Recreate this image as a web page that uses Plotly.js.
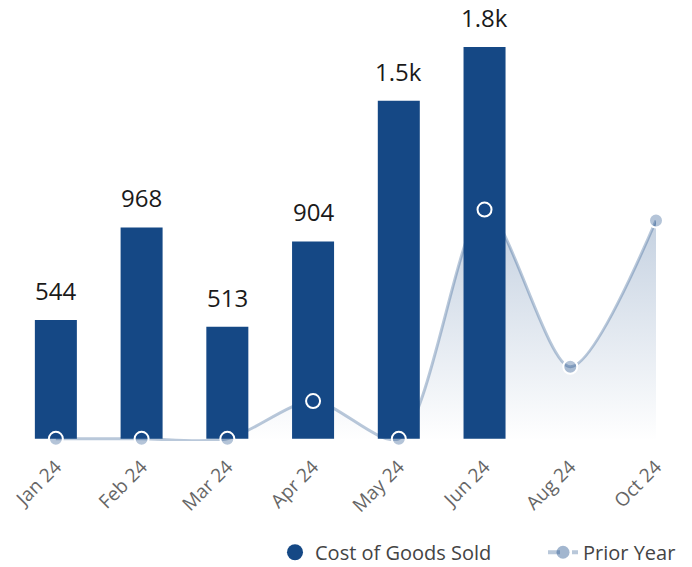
<!DOCTYPE html>
<html>
<head>
<meta charset="utf-8">
<script src="https://cdn.plot.ly/plotly-3.0.1.min.js"></script>
<style>html,body{margin:0;padding:0;background:#fff;}#chart{width:692px;height:567px;}</style>
</head>
<body>
<div id="chart"></div>
<script>
const categories = ['Jan 24','Feb 24','Mar 24','Apr 24','May 24','Jun 24','Aug 24','Oct 24'];
const barCategories = ['Jan 24','Feb 24','Mar 24','Apr 24','May 24','Jun 24'];
const costOfGoodsSold = [544, 968, 513, 904, 1549, 1795];
const barLabels = ['544','968','513','904','1.5k','1.8k'];
const priorYear = [0, 0, 0, 173, 0, 1050, 330, 1000];

const barColor = '#154885';
const lineColor = 'rgba(22,72,134,0.3)';
const markerFill = 'rgba(22,72,134,0.32)';
const font = '"Open Sans", "Noto Sans", sans-serif';

const traces = [
  {
    type: 'scatter', mode: 'lines', x: categories, y: priorYear,
    xaxis: 'x', yaxis: 'y',
    line: {shape: 'spline', smoothing: 0.8, color: lineColor, width: 3},
    fill: 'tozeroy',
    fillgradient: {type: 'vertical', colorscale: [[0, 'rgba(22,72,134,0.0)'], [1, 'rgba(22,72,134,0.26)']]},
    showlegend: false, hoverinfo: 'skip'
  },
  {
    type: 'bar', x: barCategories, y: costOfGoodsSold,
    xaxis: 'x2', yaxis: 'y2',
    marker: {color: barColor}, width: 0.49,
    showlegend: false
  },
  {
    type: 'scatter', mode: 'markers', x: categories, y: priorYear,
    xaxis: 'x2', yaxis: 'y2', cliponaxis: false,
    marker: {size: 14, color: markerFill, line: {color: '#ffffff', width: 2}},
    showlegend: false
  },
  {
    type: 'scatter', mode: 'markers', x: [null], y: [null],
    name: 'Cost of Goods Sold', xaxis: 'x2', yaxis: 'y2', legend: 'legend',
    marker: {size: 19, color: barColor, symbol: 'circle'}
  },
  {
    type: 'scatter', mode: 'lines+markers', x: [null], y: [null],
    name: 'Prior Year', xaxis: 'x2', yaxis: 'y2', legend: 'legend2',
    line: {color: 'rgba(22,72,134,0.3)', width: 4, dash: 'dash'},
    marker: {size: 13, color: 'rgba(22,72,134,0.4)'}
  }
];

const annotations = barCategories.map((c, i) => ({
  x: c, y: costOfGoodsSold[i], xref: 'x2', yref: 'y2',
  text: barLabels[i], showarrow: false, yanchor: 'bottom', yshift: 11,
  font: {family: font, size: 24, color: '#1a1a1a'}
}));

const xRange = [-0.5, 7.0];
const yRange = [-10, 2010];
const legendFont = {family: font, size: 20, color: '#444444'};

const layout = {
  width: 692, height: 567,
  margin: {l: 13, r: 36, t: 0, b: 126},
  paper_bgcolor: '#ffffff', plot_bgcolor: 'rgba(0,0,0,0)',
  font: {family: font},
  showlegend: true,
  legend: {orientation: 'h', xref: 'container', x: 275 / 692, xanchor: 'left',
           yref: 'container', y: 0.026, yanchor: 'middle', font: legendFont, itemsizing: 'trace'},
  legend2: {orientation: 'h', xref: 'container', x: 543 / 692, xanchor: 'left',
           yref: 'container', y: 0.026, yanchor: 'middle', font: legendFont, itemsizing: 'trace'},
  xaxis: {type: 'category', categoryarray: categories, range: xRange, tickangle: -45,
          showgrid: false, zeroline: false, showline: false, ticks: '', ticklabelstandoff: 10,
          automargin: false,
          tickfont: {family: font, size: 19, color: '#666666'}, fixedrange: true},
  yaxis: {range: yRange, visible: false, showgrid: false, zeroline: false, fixedrange: true},
  xaxis2: {type: 'category', categoryarray: categories, range: xRange, overlaying: 'x',
           visible: false, showgrid: false, zeroline: false, fixedrange: true},
  yaxis2: {range: yRange, overlaying: 'y', visible: false, showgrid: false, zeroline: false, fixedrange: true},
  annotations: annotations,
  bargap: 0.5
};

Plotly.newPlot('chart', traces, layout, {displayModeBar: false, staticPlot: true});
</script>
</body>
</html>
